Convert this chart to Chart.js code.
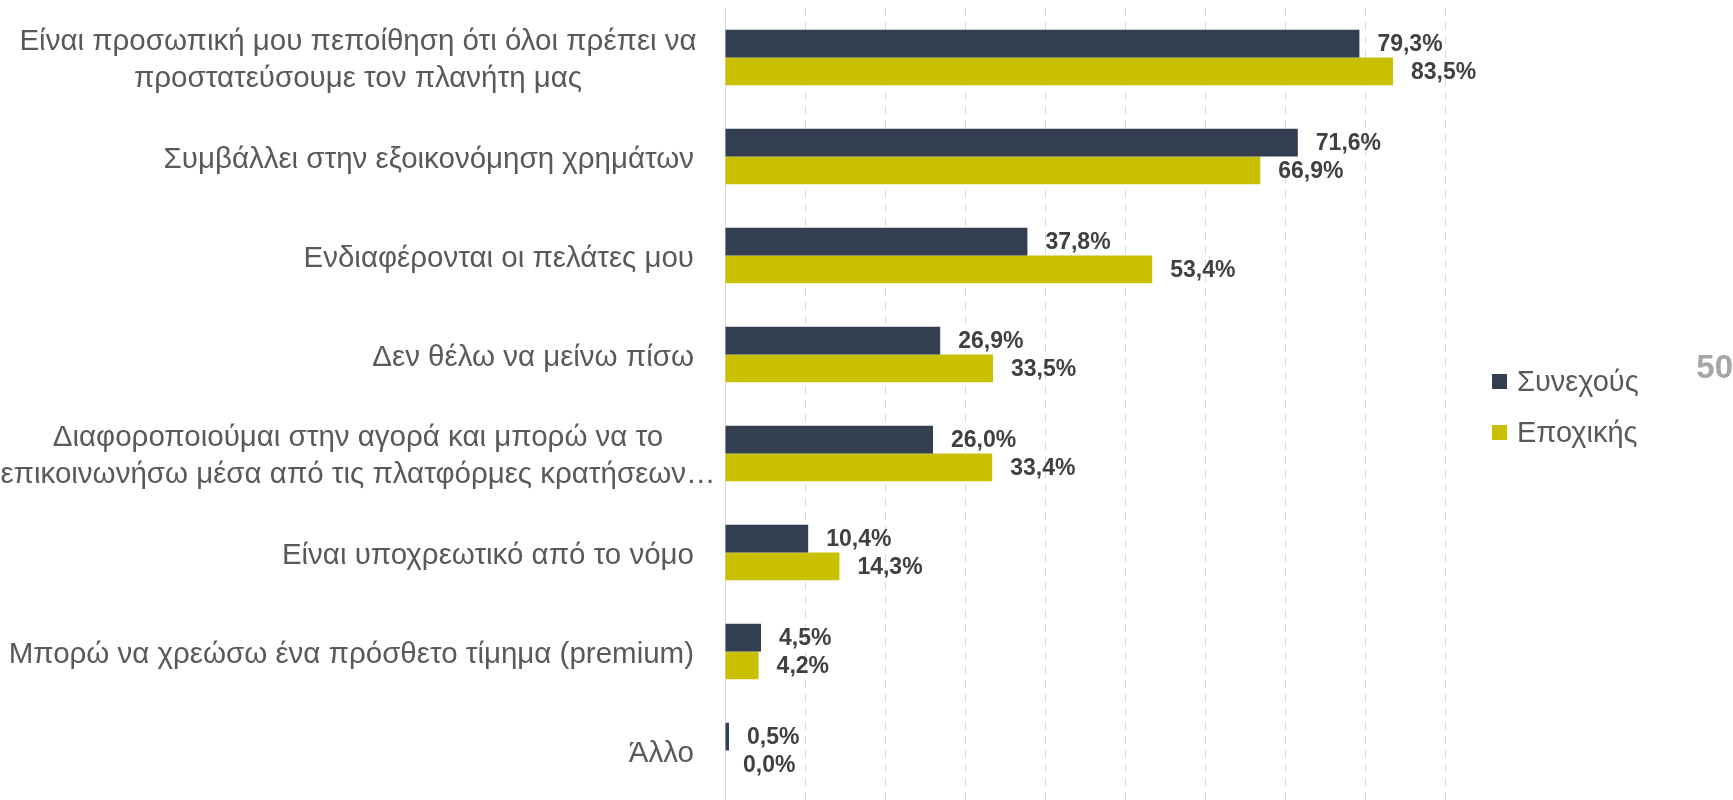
<!DOCTYPE html>
<html>
<head>
<meta charset="utf-8">
<script src="https://cdn.jsdelivr.net/npm/chart.js@4"></script>
<style>
  body { margin: 0; background: #fff; }
  #wrap { width: 1733px; height: 800px; }
</style>
</head>
<body>
<div id="wrap"><canvas id="reasonsChart" width="1733" height="800"></canvas></div>
<script>
const categories = [
    ['Είναι προσωπική μου πεποίθηση ότι όλοι πρέπει να', 'προστατεύσουμε τον πλανήτη μας'],
    'Συμβάλλει στην εξοικονόμηση χρημάτων',
    'Ενδιαφέρονται οι πελάτες μου',
    'Δεν θέλω να μείνω πίσω',
    ['Διαφοροποιούμαι στην αγορά και μπορώ να το', 'επικοινωνήσω μέσα από τις πλατφόρμες κρατήσεων…'],
    'Είναι υποχρεωτικό από το νόμο',
    'Μπορώ να χρεώσω ένα πρόσθετο τίμημα (premium)',
    'Άλλο'
];
const continuousValues = [79.3, 71.6, 37.8, 26.9, 26.0, 10.4, 4.5, 0.5];
const seasonalValues = [83.5, 66.9, 53.4, 33.5, 33.4, 14.3, 4.2, 0.0];
const seriesNames = ['Συνεχούς', 'Εποχικής'];
const pageNumber = '50';

const FONT = '"Liberation Sans", Arial, sans-serif';
const fmt = v => v.toFixed(1).replace('.', ',') + '%';

// category labels: single lines right aligned, wrapped ones centred in the label column
const categoryLabels = {
    id: 'categoryLabels',
    afterDraw(chart) {
        const ctx = chart.ctx;
        const yScale = chart.scales.y;
        const right = chart.chartArea.left - 31;
        const wrapCentre = right - 336;
        const lineHeight = 37;
        ctx.save();
        ctx.font = '29.5px ' + FONT;
        ctx.fillStyle = '#595959';
        ctx.textBaseline = 'middle';
        categories.forEach((label, i) => {
            const y = yScale.getPixelForValue(i) + 3;
            if (Array.isArray(label)) {
                ctx.textAlign = 'center';
                const y0 = y - (label.length - 1) * lineHeight / 2;
                label.forEach((l, k) => ctx.fillText(l, wrapCentre, y0 + k * lineHeight));
            } else {
                ctx.textAlign = 'right';
                ctx.fillText(label, right, y);
            }
        });
        ctx.restore();
    }
};

// value labels at the end of each bar
const valueLabels = {
    id: 'valueLabels',
    afterDatasetsDraw(chart) {
        const ctx = chart.ctx;
        ctx.save();
        ctx.font = 'bold 23px ' + FONT;
        ctx.fillStyle = '#404040';
        ctx.textAlign = 'left';
        ctx.textBaseline = 'middle';
        chart.data.datasets.forEach((ds, di) => {
            chart.getDatasetMeta(di).data.forEach((bar, i) => {
                ctx.fillText(fmt(ds.data[i]), bar.x + 18, bar.y + 1);
            });
        });
        ctx.restore();
    }
};

// legend to the right of the plot, plus the page number
const sideLegend = {
    id: 'sideLegend',
    afterDraw(chart) {
        const ctx = chart.ctx;
        const area = chart.chartArea;
        const midY = (area.top + area.bottom) / 2 + 3;
        const x = area.right + 47;
        ctx.save();
        ctx.font = '29px ' + FONT;
        ctx.textAlign = 'left';
        ctx.textBaseline = 'middle';
        chart.data.datasets.forEach((ds, i) => {
            const y = midY + (i - 0.5) * 51;
            ctx.fillStyle = ds.backgroundColor;
            ctx.fillRect(x, y - 7.5, 15, 15);
            ctx.fillStyle = '#595959';
            ctx.fillText(ds.label, x + 25, y + 1);
        });
        ctx.font = 'bold 33px ' + FONT;
        ctx.fillStyle = '#A6A6A6';
        ctx.textAlign = 'right';
        ctx.fillText(pageNumber, chart.width, 369);
        ctx.restore();
    }
};

new Chart(document.getElementById('reasonsChart'), {
    type: 'bar',
    data: {
        labels: categories,
        datasets: [{
            label: seriesNames[0],
            data: continuousValues,
            backgroundColor: '#333F50'
        }, {
            label: seriesNames[1],
            data: seasonalValues,
            backgroundColor: '#C9C100'
        }]
    },
    options: {
        indexAxis: 'y',
        responsive: false,
        animation: false,
        devicePixelRatio: 1,
        layout: { padding: { left: 725, right: 288, top: 8, bottom: 0 } },
        datasets: {
            bar: { categoryPercentage: 0.56, barPercentage: 1.0 }
        },
        scales: {
            x: {
                min: 0,
                max: 90,
                ticks: { display: false, stepSize: 10 },
                grid: { color: '#D9D9D9', lineWidth: 1, drawTicks: false },
                border: { display: false, dash: [8, 6] }
            },
            y: {
                ticks: { display: false },
                grid: { display: false, drawTicks: false },
                border: { display: true, color: '#D9D9D9', width: 1 }
            }
        },
        plugins: {
            legend: { display: false },
            tooltip: { enabled: false }
        }
    },
    plugins: [categoryLabels, valueLabels, sideLegend]
});
</script>
</body>
</html>
